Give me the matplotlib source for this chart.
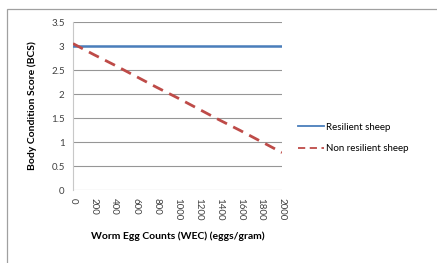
import matplotlib
matplotlib.use("Agg")
import matplotlib.pyplot as plt
from matplotlib.patches import Rectangle

# data
wec = [0, 200, 400, 600, 800, 1000, 1200, 1400, 1600, 1800, 2000]
resilient = [3.0] * 11
non_resilient = [3.05, 2.82, 2.60, 2.37, 2.14, 1.92, 1.69, 1.46, 1.24, 1.01, 0.78]
yticks = [0, 0.5, 1, 1.5, 2, 2.5, 3, 3.5]
ytick_labels = ["0", "0.5", "1", "1.5", "2", "2.5", "3", "3.5"]

plt.rcParams["font.family"] = ["Lato", "DejaVu Sans"]

W, H = 437, 263
fig = plt.figure(figsize=(W / 100, H / 100), dpi=100)

# chart frame (left/top edges visible, rest runs off the image)
fig.patches.append(Rectangle((7 / W, -0.05), 1.1, 1 - 9 / H + 0.05,
                             transform=fig.transFigure, fill=False,
                             edgecolor="#a0a0a0", lw=0.9))

ax = fig.add_axes([73 / W, 1 - 190 / H, 209 / W, 168 / H])
pos = list(range(len(wec)))
ax.plot(pos, resilient, color="#4a7ebb", lw=1.8, label="Resilient sheep", zorder=3)
ax.plot(pos, non_resilient, color="#be4b48", lw=2.0, ls=(0, (4, 2.5)),
        label="Non resilient sheep", zorder=3)

ax.set_xlim(0, len(wec) - 1)
ax.set_ylim(0, 3.5)
ax.set_yticks(yticks)
ax.set_yticklabels(ytick_labels, fontsize=7, color="#404040")
ax.set_xticks(pos)
ax.set_xticklabels([str(v) for v in wec], rotation=-90, fontsize=7, color="#404040")
ax.tick_params(axis="both", length=0, pad=6)
ax.grid(axis="y", color="#969696", lw=0.8)
ax.set_axisbelow(True)
for s in ["top", "right", "bottom"]:
    ax.spines[s].set_visible(False)
ax.spines["left"].set_color("#c8c8c8")
ax.spines["left"].set_linewidth(0.8)

ax.set_xlabel("Worm Egg Counts (WEC) (eggs/gram)", fontsize=7.5, fontweight="bold",
              labelpad=8)
ax.set_ylabel("Body Condition Score (BCS)", fontsize=7.5, fontweight="bold", labelpad=10)

leg = ax.legend(loc="center left", bbox_to_anchor=(1.06, 0.31), frameon=False, fontsize=7,
                handlelength=2.6, handletextpad=0.2, labelspacing=1.3, borderaxespad=0)
for line in leg.get_lines():
    line.set_linewidth(1.3)

fig.savefig("out.png", dpi=100)
